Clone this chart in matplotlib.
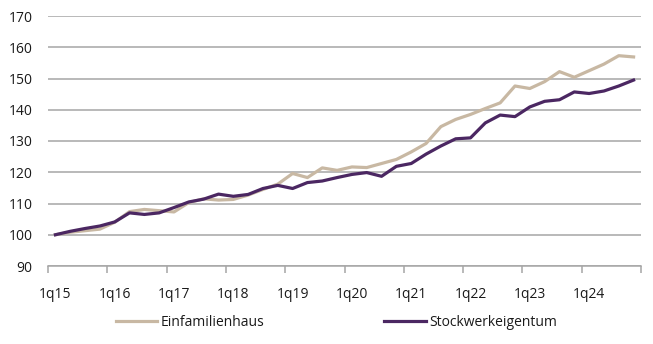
import matplotlib
matplotlib.use("Agg")

import matplotlib.pyplot as plt
from matplotlib.ticker import FixedLocator, NullFormatter
import numpy as np

# Quarterly price index, 1q15 = 100
quarters = [f"{q}q{y:02d}" for y in range(15, 25) for q in range(1, 5)]
einfamilienhaus = [
    100, 100.8, 101.3, 101.8, 104, 107.4, 108.1, 107.7, 107.3, 110.3,
    111.5, 111.1, 111.3, 112.7, 114.5, 116.2, 119.6, 118.3, 121.4, 120.6,
    121.7, 121.5, 122.8, 124.1, 126.5, 129.2, 134.6, 136.9, 138.5, 140.4,
    142.2, 147.6, 146.8, 149, 152.2, 150.4, 152.5, 154.6, 157.3, 156.9,
]
stockwerkeigentum = [
    100, 101.1, 102, 102.8, 104.1, 107, 106.5, 107, 108.7, 110.5,
    111.4, 113, 112.3, 112.9, 114.8, 115.8, 114.8, 116.7, 117.2, 118.3,
    119.3, 119.9, 118.7, 121.9, 122.8, 125.8, 128.4, 130.7, 131, 135.8,
    138.3, 137.8, 140.9, 142.7, 143.2, 145.7, 145.2, 146, 147.6, 149.5,
]
y_ticks = [90, 100, 110, 120, 130, 140, 150, 160, 170]

BEIGE = "#C8B8A3"
PURPLE = "#4B2762"
GRID = "#A6A6A6"
TEXT = "#1A1A1A"

plt.rcParams["font.family"] = ["Open Sans", "DejaVu Sans"]
plt.rcParams["font.size"] = 10

fig = plt.figure(figsize=(6.53, 3.44), dpi=100)
ax = fig.add_axes([48 / 653, 1 - 266 / 344, 593 / 653, 250 / 344])

x = np.arange(len(quarters))
ax.plot(x, einfamilienhaus, color=BEIGE, lw=2.3, label="Einfamilienhaus",
        solid_joinstyle="round")
ax.plot(x, stockwerkeigentum, color=PURPLE, lw=2.3, label="Stockwerkeigentum",
        solid_joinstyle="round")

ax.set_xlim(-0.5, len(quarters) - 0.5)
ax.set_ylim(90, 170)

# y axis: labels only, horizontal gridlines
ax.set_yticks(y_ticks)
ax.tick_params(axis="y", length=0, pad=11, labelcolor=TEXT)
ax.yaxis.grid(True, color=GRID, lw=1.1)
ax.set_axisbelow(True)

# x axis: tick marks at year boundaries, labels on first quarters
ax.xaxis.set_major_locator(FixedLocator(np.arange(-0.5, len(quarters), 4)))
ax.xaxis.set_major_formatter(NullFormatter())
ax.set_xticks(x[::4], quarters[::4], minor=True)
ax.tick_params(axis="x", which="major", length=5, width=1.1, color=GRID)
ax.tick_params(axis="x", which="minor", length=0, pad=15, labelcolor=TEXT)

for side in ("left", "right", "top"):
    ax.spines[side].set_visible(False)
ax.spines["bottom"].set_color(GRID)
ax.spines["bottom"].set_linewidth(1.1)

fig.legend(loc="center", bbox_to_anchor=(0.515, 1 - 322 / 344), ncol=2,
           frameon=False, handlelength=3.0, handletextpad=0.25,
           columnspacing=8.6, labelcolor=TEXT)

fig.savefig("out.png", dpi=100)
